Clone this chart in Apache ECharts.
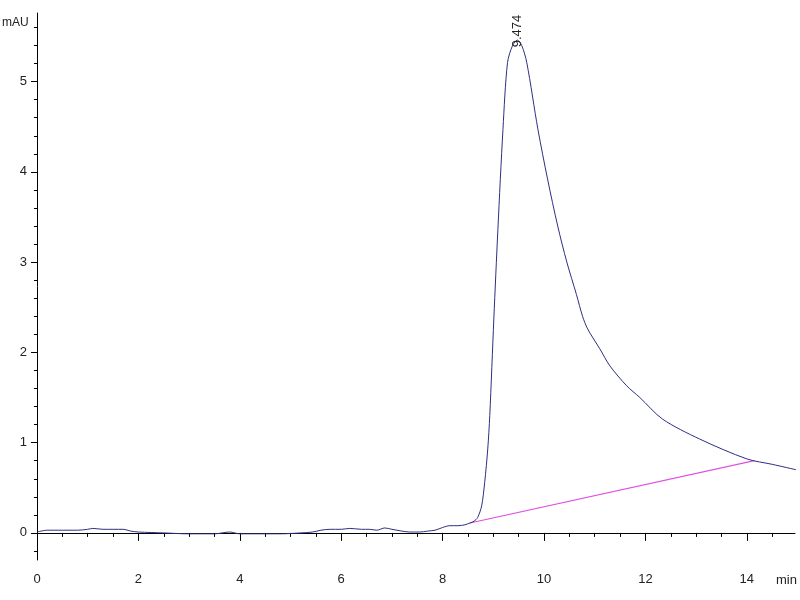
<!DOCTYPE html>
<html>
<head>
<meta charset="utf-8">
<script src="https://cdn.jsdelivr.net/npm/echarts@6/dist/echarts.min.js"></script>
<style>
  html, body { margin: 0; padding: 0; background: #fff; }
  #chart { width: 800px; height: 600px; }
</style>
</head>
<body>
<div id="chart"></div>
<script>
// retention time (min) and detector signal (mAU)
var times = [0, 0.2, 0.5, 0.8, 1.0, 1.1, 1.3, 1.7, 1.85, 2.0, 2.5, 3.0, 3.5, 3.8, 4.0, 4.5, 4.8, 5.2,
  5.44, 5.6, 5.78, 6.0, 6.17, 6.4, 6.56, 6.7, 6.86, 7.0, 7.2, 7.35, 7.55, 7.7, 7.85, 8.0, 8.14, 8.3,
  8.44, 8.54, 8.62, 8.69, 8.77, 8.83, 8.89, 8.93, 9.01, 9.09, 9.19, 9.28, 9.38, 9.474, 9.56, 9.66, 9.88,
  10.07, 10.27, 10.45, 10.64, 10.76, 10.86, 11.1, 11.3, 11.63, 11.89, 12.34, 13.07, 14.0, 14.5, 14.97];
var signal = [0.01, 0.03, 0.03, 0.03, 0.04, 0.05, 0.04, 0.04, 0.02, 0.01, 0.00, -0.01, -0.01, 0.01, -0.01, -0.01, -0.01, 0.00,
  0.01, 0.03, 0.04, 0.04, 0.05, 0.04, 0.04, 0.03, 0.055, 0.04, 0.02, 0.01, 0.01, 0.02, 0.03, 0.06, 0.08, 0.08,
  0.09, 0.11, 0.13, 0.17, 0.30, 0.56, 0.93, 1.30, 2.37, 3.36, 4.47, 5.21, 5.40, 5.46, 5.40, 5.21, 4.47,
  3.92, 3.40, 3.00, 2.64, 2.40, 2.26, 2.04, 1.85, 1.63, 1.50, 1.26, 1.04, 0.82, 0.76, 0.70];

// integration baseline (start, end)
var baseTimes = [8.54, 14.15];
var baseSignal = [0.11, 0.80];

var peakTime = 9.474;
var peakHeight = 5.46;
var xTicks = [0, 2, 4, 6, 8, 10, 12, 14];
var yTicks = [0, 1, 2, 3, 4, 5];
var yMinorTicks = [-0.2, 0.2, 0.4, 0.6, 0.8, 1.2, 1.4, 1.6, 1.8, 2.2, 2.4, 2.6, 2.8,
  3.2, 3.4, 3.6, 3.8, 4.2, 4.4, 4.6, 4.8, 5.2, 5.4, 5.6];

var font = "'Liberation Sans Narrow', 'Liberation Sans', Arial, sans-serif";

var traceData = times.map(function (t, i) { return [t, signal[i]]; });
var baseData = baseTimes.map(function (t, i) { return [t, baseSignal[i]]; });

var chart = echarts.init(document.getElementById('chart'));
chart.setOption({
  animation: false,
  backgroundColor: '#fff',
  grid: { left: 37, right: 5, top: 13, bottom: 40 },
  xAxis: {
    type: 'value',
    min: 0,
    max: 14.95,
    interval: 2,
    splitLine: { show: false },
    axisLine: { lineStyle: { color: '#000', width: 1 } },
    axisTick: { length: 8, lineStyle: { color: '#000' }, customValues: xTicks },
    minorTick: { show: true, splitNumber: 4, length: 4, lineStyle: { color: '#000' } },
    axisLabel: {
      customValues: xTicks,
      margin: 13,
      color: '#222',
      fontFamily: font,
      fontSize: 13
    }
  },
  yAxis: [{
    type: 'value',
    min: -0.3,
    max: 5.76,
    splitLine: { show: false },
    axisLine: { show: true, lineStyle: { color: '#000', width: 1 } },
    axisTick: { show: true, length: 6, customValues: yTicks, lineStyle: { color: '#000' } },
    axisLabel: {
      customValues: yTicks,
      margin: 10,
      color: '#222',
      fontFamily: font,
      fontSize: 13
    }
  }, {
    type: 'value',
    position: 'left',
    min: -0.3,
    max: 5.76,
    splitLine: { show: false },
    axisLine: { show: false },
    axisTick: { show: true, length: 3, customValues: yMinorTicks, lineStyle: { color: '#000' } },
    axisLabel: { show: false }
  }],
  graphic: [
    { type: 'text', left: 2, top: 17, style: { text: 'mAU', fontFamily: font, fontSize: 12, fill: '#222' } },
    { type: 'text', left: 776, top: 574, style: { text: 'min', fontFamily: font, fontSize: 13, fill: '#222' } }
  ],
  series: [{
    name: 'trace',
    type: 'line',
    data: traceData,
    showSymbol: false,
    symbol: 'none',
    smooth: 0.3,
    lineStyle: { color: '#2e2e82', width: 1 },
    z: 3,
    markPoint: {
      symbol: 'circle',
      symbolSize: 1,
      itemStyle: { color: 'transparent' },
      data: [{
        coord: [peakTime, peakHeight],
        label: {
          show: true,
          formatter: String(peakTime),
          rotate: 90,
          position: 'inside',
          align: 'center',
          verticalAlign: 'middle',
          offset: [9, 0],
          fontFamily: font,
          fontSize: 13,
          color: '#222'
        }
      }]
    }
  }, {
    name: 'baseline',
    type: 'line',
    data: baseData,
    showSymbol: false,
    symbol: 'none',
    lineStyle: { color: '#e050e0', width: 1.2 },
    z: 2
  }]
});
</script>
</body>
</html>
